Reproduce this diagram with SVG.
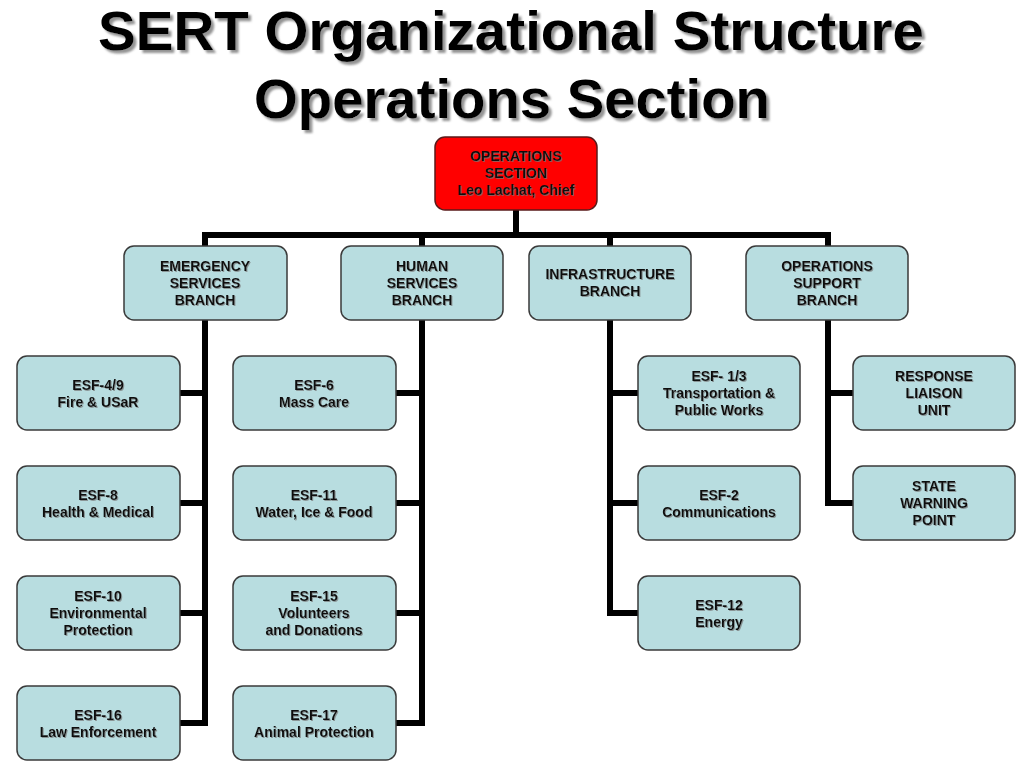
<svg xmlns="http://www.w3.org/2000/svg" width="1024" height="768" viewBox="0 0 1024 768">
<defs>
<filter id="tshadow" x="-5%" y="-5%" width="110%" height="120%">
<feDropShadow dx="3" dy="3" stdDeviation="1.2" flood-color="#888" flood-opacity="0.9"/>
</filter>
<filter id="nshadow" x="-5%" y="-10%" width="110%" height="130%">
<feDropShadow dx="1" dy="1" stdDeviation="0.6" flood-color="#777" flood-opacity="0.7"/>
</filter>
</defs>
<style>
.title{font-family:"Liberation Sans Narrow","Liberation Sans",Arial,sans-serif;font-weight:bold;font-size:55px;fill:#000;text-anchor:middle}
.box{fill:#b8dde0;stroke:#3a3a3a;stroke-width:1.5}
.red{fill:#ff0000;stroke:#5a1a1a;stroke-width:1.5}
.lbl{font-family:"Liberation Sans",Arial,sans-serif;font-weight:bold;font-size:14px;fill:#111;text-anchor:middle}
.conn{fill:none;stroke:#000;stroke-width:6;stroke-linejoin:miter}
</style>
<rect width="1024" height="768" fill="#fff"/>
<g id="title" filter="url(#tshadow)">
<text class="title" x="511" y="50" textLength="826" lengthAdjust="spacingAndGlyphs">SERT Organizational Structure</text>
<text class="title" x="512" y="118" textLength="516" lengthAdjust="spacingAndGlyphs">Operations Section</text>
</g>
<g id="connectors">
<path class="conn" d="M516 210 V235"/>
<path class="conn" d="M205 246 V235 H828 V246"/>
<path class="conn" d="M422 235 V246 M610 235 V246"/>
<path class="conn" d="M205 320 V723 H179 M205 393 H179 M205 503 H179 M205 613 H179"/>
<path class="conn" d="M422 320 V723 H395 M422 393 H395 M422 503 H395 M422 613 H395"/>
<path class="conn" d="M610 320 V613 H638 M610 393 H638 M610 503 H638"/>
<path class="conn" d="M828 320 V503 H853 M828 393 H853"/>
</g>
<g id="ops-section">
<rect class="red" x="435" y="137" width="162" height="73" rx="10"/>
<g filter="url(#nshadow)"><text class="lbl" x="516" y="161">OPERATIONS</text><text class="lbl" x="516" y="178">SECTION</text><text class="lbl" x="516" y="195">Leo Lachat, Chief</text></g>
</g>
<g id="emergency-branch">
<rect class="box" x="124" y="246" width="163" height="74" rx="10"/>
<g filter="url(#nshadow)"><text class="lbl" x="205" y="271">EMERGENCY</text><text class="lbl" x="205" y="288">SERVICES</text><text class="lbl" x="205" y="305">BRANCH</text></g>
</g>
<g id="human-branch">
<rect class="box" x="341" y="246" width="162" height="74" rx="10"/>
<g filter="url(#nshadow)"><text class="lbl" x="422" y="271">HUMAN</text><text class="lbl" x="422" y="288">SERVICES</text><text class="lbl" x="422" y="305">BRANCH</text></g>
</g>
<g id="infrastructure-branch">
<rect class="box" x="529" y="246" width="162" height="74" rx="10"/>
<g filter="url(#nshadow)"><text class="lbl" x="610" y="279">INFRASTRUCTURE</text><text class="lbl" x="610" y="296">BRANCH</text></g>
</g>
<g id="ops-support-branch">
<rect class="box" x="746" y="246" width="162" height="74" rx="10"/>
<g filter="url(#nshadow)"><text class="lbl" x="827" y="271">OPERATIONS</text><text class="lbl" x="827" y="288">SUPPORT</text><text class="lbl" x="827" y="305">BRANCH</text></g>
</g>
<g id="esf-4-9">
<rect class="box" x="17" y="356" width="163" height="74" rx="10"/>
<g filter="url(#nshadow)"><text class="lbl" x="98" y="390">ESF-4/9</text><text class="lbl" x="98" y="407">Fire &amp; USaR</text></g>
</g>
<g id="esf-8">
<rect class="box" x="17" y="466" width="163" height="74" rx="10"/>
<g filter="url(#nshadow)"><text class="lbl" x="98" y="500">ESF-8</text><text class="lbl" x="98" y="517">Health &amp; Medical</text></g>
</g>
<g id="esf-10">
<rect class="box" x="17" y="576" width="163" height="74" rx="10"/>
<g filter="url(#nshadow)"><text class="lbl" x="98" y="601">ESF-10</text><text class="lbl" x="98" y="618">Environmental</text><text class="lbl" x="98" y="635">Protection</text></g>
</g>
<g id="esf-16">
<rect class="box" x="17" y="686" width="163" height="74" rx="10"/>
<g filter="url(#nshadow)"><text class="lbl" x="98" y="720">ESF-16</text><text class="lbl" x="98" y="737">Law Enforcement</text></g>
</g>
<g id="esf-6">
<rect class="box" x="233" y="356" width="163" height="74" rx="10"/>
<g filter="url(#nshadow)"><text class="lbl" x="314" y="390">ESF-6</text><text class="lbl" x="314" y="407">Mass Care</text></g>
</g>
<g id="esf-11">
<rect class="box" x="233" y="466" width="163" height="74" rx="10"/>
<g filter="url(#nshadow)"><text class="lbl" x="314" y="500">ESF-11</text><text class="lbl" x="314" y="517">Water, Ice &amp; Food</text></g>
</g>
<g id="esf-15">
<rect class="box" x="233" y="576" width="163" height="74" rx="10"/>
<g filter="url(#nshadow)"><text class="lbl" x="314" y="601">ESF-15</text><text class="lbl" x="314" y="618">Volunteers</text><text class="lbl" x="314" y="635">and Donations</text></g>
</g>
<g id="esf-17">
<rect class="box" x="233" y="686" width="163" height="74" rx="10"/>
<g filter="url(#nshadow)"><text class="lbl" x="314" y="720">ESF-17</text><text class="lbl" x="314" y="737">Animal Protection</text></g>
</g>
<g id="esf-1-3">
<rect class="box" x="638" y="356" width="162" height="74" rx="10"/>
<g filter="url(#nshadow)"><text class="lbl" x="719" y="381">ESF- 1/3</text><text class="lbl" x="719" y="398">Transportation &amp;</text><text class="lbl" x="719" y="415">Public Works</text></g>
</g>
<g id="esf-2">
<rect class="box" x="638" y="466" width="162" height="74" rx="10"/>
<g filter="url(#nshadow)"><text class="lbl" x="719" y="500">ESF-2</text><text class="lbl" x="719" y="517">Communications</text></g>
</g>
<g id="esf-12">
<rect class="box" x="638" y="576" width="162" height="74" rx="10"/>
<g filter="url(#nshadow)"><text class="lbl" x="719" y="610">ESF-12</text><text class="lbl" x="719" y="627">Energy</text></g>
</g>
<g id="response-liaison">
<rect class="box" x="853" y="356" width="162" height="74" rx="10"/>
<g filter="url(#nshadow)"><text class="lbl" x="934" y="381">RESPONSE</text><text class="lbl" x="934" y="398">LIAISON</text><text class="lbl" x="934" y="415">UNIT</text></g>
</g>
<g id="state-warning">
<rect class="box" x="853" y="466" width="162" height="74" rx="10"/>
<g filter="url(#nshadow)"><text class="lbl" x="934" y="491">STATE</text><text class="lbl" x="934" y="508">WARNING</text><text class="lbl" x="934" y="525">POINT</text></g>
</g>
</svg>
